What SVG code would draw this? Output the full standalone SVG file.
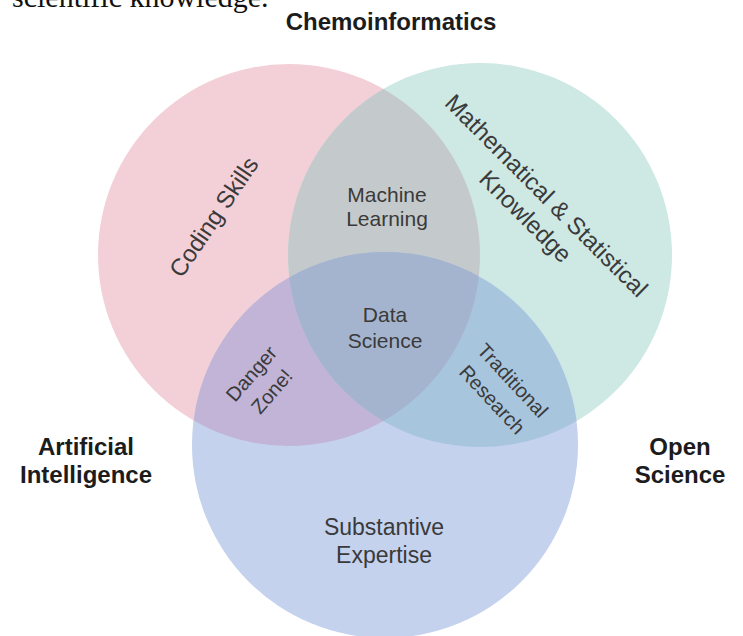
<svg xmlns="http://www.w3.org/2000/svg" width="743" height="636" viewBox="0 0 743 636">
<style>
.lbl{font-family:"Liberation Sans",Arial,sans-serif;fill:#3a3a3a;text-anchor:middle}
.big{font-size:24px}
.sub{font-size:23px}
.mid{font-size:21px}
.sm{font-size:20px}
.out{font-family:"Liberation Sans",Arial,sans-serif;font-weight:bold;font-size:24px;fill:#1c1c1c;text-anchor:middle}
.cap{font-family:"Liberation Serif","Times New Roman",serif;font-size:30px;fill:#111}
</style>
<defs>
<clipPath id="cpPink"><circle cx="289" cy="255" r="191"/></clipPath>
<clipPath id="cpGreen"><circle cx="480" cy="255" r="192"/></clipPath>
</defs>
<rect width="743" height="636" fill="#ffffff"/>
<text class="cap" x="12" y="7">scientific knowledge.</text>
<g id="coding-skills">
<circle cx="289" cy="255" r="191" fill="#f3d0d7"/>
</g>
<g id="math-stats">
<circle cx="480" cy="255" r="192" fill="#cee8e4"/>
</g>
<g id="substantive-expertise">
<circle cx="385" cy="445" r="193" fill="#c4d2ee"/>
</g>
<g id="machine-learning">
<g clip-path="url(#cpPink)"><circle cx="480" cy="255" r="192" fill="#c4cacb"/></g>
</g>
<g id="danger-zone">
<g clip-path="url(#cpPink)"><circle cx="385" cy="445" r="193" fill="#c1b4d6"/></g>
</g>
<g id="traditional-research">
<g clip-path="url(#cpGreen)"><circle cx="385" cy="445" r="193" fill="#a8c5de"/></g>
</g>
<g id="data-science">
<g clip-path="url(#cpPink)"><g clip-path="url(#cpGreen)"><circle cx="385" cy="445" r="193" fill="#a4b4ce"/></g></g>
</g>
<g id="connectors"/>
<g id="labels">
<text class="lbl big" transform="translate(214,217) rotate(-56)" x="0" y="8">Coding Skills</text>
<g transform="translate(536,206) rotate(45)">
<text class="lbl big" x="0" y="-6.5">Mathematical &amp; Statistical</text>
<text class="lbl big" x="0" y="23">Knowledge</text>
</g>
<text class="lbl sub" x="384" y="535">Substantive</text>
<text class="lbl sub" x="384" y="563">Expertise</text>
<text class="lbl mid" x="387" y="202">Machine</text>
<text class="lbl mid" x="387" y="226">Learning</text>
<text class="lbl mid" x="385" y="322">Data</text>
<text class="lbl mid" x="385" y="348">Science</text>
<g transform="translate(261.5,382.5) rotate(-49)">
<text class="lbl sm" x="0" y="-6.5">Danger</text>
<text class="lbl sm" x="0" y="20.5">Zone!</text>
</g>
<g transform="translate(502.5,390) rotate(47)">
<text class="lbl sm" x="0" y="-7">Traditional</text>
<text class="lbl sm" x="0" y="21">Research</text>
</g>
</g>
<g id="chemoinformatics"><text class="out" x="391" y="30">Chemoinformatics</text></g>
<g id="artificial-intelligence">
<text class="out" x="86" y="455">Artificial</text>
<text class="out" x="86" y="483">Intelligence</text>
</g>
<g id="open-science">
<text class="out" x="680" y="455">Open</text>
<text class="out" x="680" y="483">Science</text>
</g>
</svg>
